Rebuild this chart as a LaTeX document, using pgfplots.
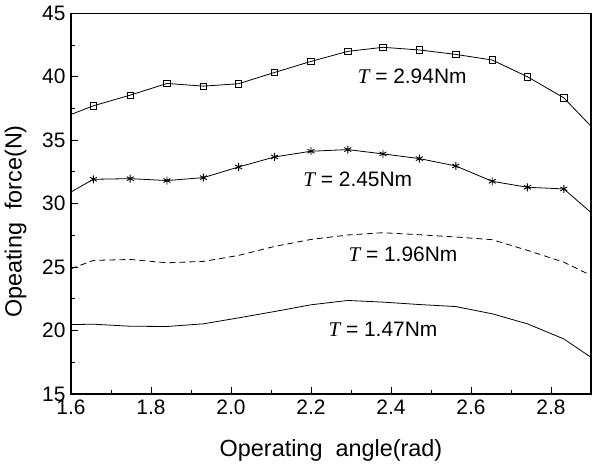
\documentclass[border=0pt]{standalone}
\usepackage{pgfplots}
\pgfplotsset{compat=1.18}
\usepackage{fontspec}
\setmainfont{Liberation Sans}
\newfontfamily\tfont{Liberation Serif}
\newcommand{\Tq}{{\tfont\itshape T}}

\begin{document}
\begin{tikzpicture}
\begin{axis}[
  scale only axis,
  width=520bp, height=380.7bp,
  xmin=1.6, xmax=2.9, ymin=15, ymax=45,
  xtick={1.6,1.8,...,2.8}, ytick={15,20,...,45},
  minor x tick num=1, minor y tick num=1,
  tick align=inside, xtick pos=bottom, ytick pos=left,
  major tick length=7bp, minor tick length=4bp,
  axis line style={line width=1.1bp},
  every tick/.style={black, line width=0.9bp},
  /pgf/number format/assume math mode=true,
  x tick label style={/pgf/number format/fixed, /pgf/number format/fixed zerofill, /pgf/number format/precision=1},
  tick label style={font=\fontsize{21}{24}\selectfont},
  xticklabel style={yshift=-2bp},
  yticklabel style={xshift=-2bp},
  label style={font=\fontsize{23.5}{26}\selectfont},
  xlabel={Operating\ \ angle(rad)},
  ylabel={Opeating\ \ force(N)},
  xlabel shift=18bp,
  ylabel shift=9bp,
  every axis y label/.append style={at={(ticklabel cs:0.453)}},
  clip=false,
]
% T = 2.94 Nm
\addplot[black, line width=0.8bp, mark=square, mark size=3.2bp,
  mark options={solid, line width=0.7bp, fill=white}, mark indices={2,...,15}]
coordinates {
  (1.600,37.03) (1.656,37.71) (1.748,38.55) (1.840,39.47) (1.931,39.26)
  (2.019,39.45) (2.109,40.34) (2.200,41.21) (2.292,42.00) (2.380,42.32)
  (2.471,42.11) (2.562,41.76) (2.653,41.32) (2.741,40.00) (2.832,38.34)
  (2.900,36.10)
};
% T = 2.45 Nm
\addplot[black, line width=0.8bp, mark=asterisk, mark size=4bp,
  mark options={solid, line width=0.9bp}, mark indices={2,...,15}]
coordinates {
  (1.600,30.92) (1.656,31.92) (1.748,31.97) (1.840,31.82) (1.931,32.05)
  (2.019,32.89) (2.109,33.68) (2.200,34.13) (2.292,34.26) (2.380,33.92)
  (2.471,33.55) (2.562,32.97) (2.653,31.76) (2.741,31.29) (2.832,31.16)
  (2.900,29.30)
};
% T = 1.96 Nm
\addplot[black, line width=0.8bp, dash pattern=on 6bp off 4bp, mark=none]
coordinates {
  (1.600,24.87) (1.656,25.53) (1.748,25.60) (1.840,25.34) (1.931,25.45)
  (2.019,25.92) (2.109,26.63) (2.200,27.18) (2.292,27.53) (2.380,27.71)
  (2.471,27.55) (2.562,27.37) (2.653,27.16) (2.741,26.32) (2.832,25.39)
  (2.900,24.34)
};
% T = 1.47 Nm
\addplot[black, line width=0.8bp, mark=none]
coordinates {
  (1.600,20.47) (1.656,20.50) (1.748,20.34) (1.840,20.32) (1.931,20.53)
  (2.019,21.00) (2.109,21.50) (2.200,22.03) (2.292,22.37) (2.380,22.24)
  (2.471,22.05) (2.562,21.89) (2.653,21.32) (2.741,20.53) (2.832,19.34)
  (2.900,17.89)
};
\node[font=\fontsize{21}{24}\selectfont] at (axis cs:2.453,40.05) {\Tq\ = 2.94Nm};
\node[font=\fontsize{21}{24}\selectfont] at (axis cs:2.317,31.92) {\Tq\ = 2.45Nm};
\node[font=\fontsize{21}{24}\selectfont] at (axis cs:2.430,26.00) {\Tq\ = 1.96Nm};
\node[font=\fontsize{21}{24}\selectfont] at (axis cs:2.380,20.13) {\Tq\ = 1.47Nm};
\coordinate (sw) at (rel axis cs:0,0);
\coordinate (ne) at (rel axis cs:1,1);
\end{axis}
\useasboundingbox ([xshift=-71bp,yshift=-80bp]sw) rectangle ([xshift=7bp,yshift=13.3bp]ne);
\end{tikzpicture}
\end{document}
